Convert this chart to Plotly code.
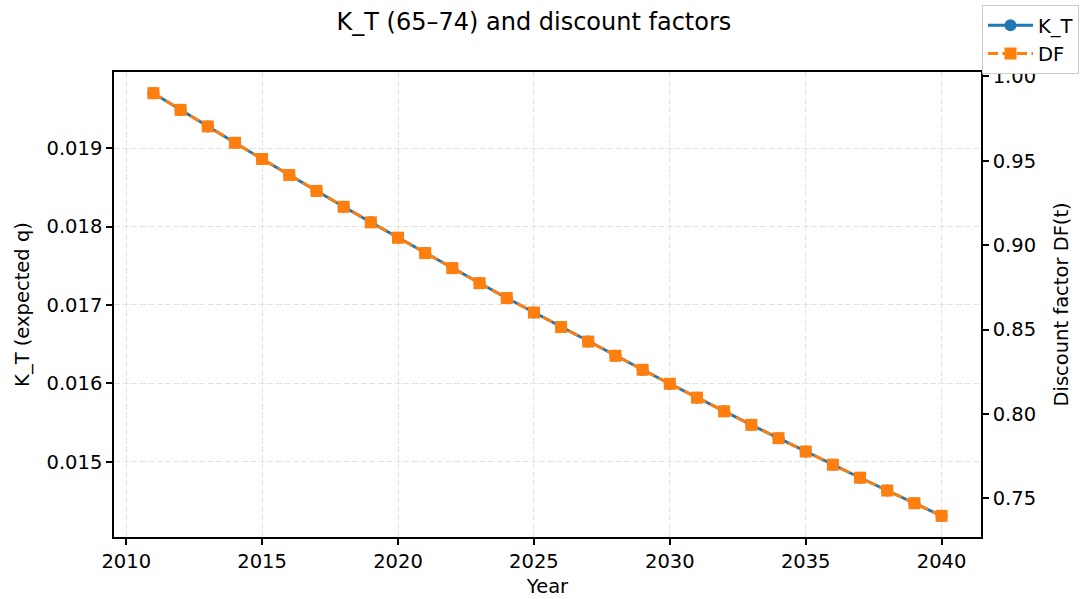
import plotly.graph_objects as go

years = list(range(2011, 2041))
k_t = [0.019702, 0.019489, 0.019278, 0.019069, 0.018862, 0.018657, 0.018455, 0.018252,
       0.018054, 0.017858, 0.017662, 0.017470, 0.017279, 0.017089, 0.016904, 0.016718,
       0.016533, 0.016352, 0.016173, 0.015995, 0.015818, 0.015643, 0.015471, 0.015301,
       0.015131, 0.014963, 0.014797, 0.014633, 0.014472, 0.014310]
df = [0.9900, 0.9801, 0.9703, 0.9606, 0.9510, 0.9415, 0.9321, 0.9227, 0.9135, 0.9044,
      0.8953, 0.8864, 0.8775, 0.8687, 0.8601, 0.8515, 0.8429, 0.8345, 0.8262, 0.8179,
      0.8097, 0.8016, 0.7936, 0.7857, 0.7778, 0.7700, 0.7623, 0.7547, 0.7472, 0.7397]

x_ticks = [2010, 2015, 2020, 2025, 2030, 2035, 2040]
left_ticks = [0.015, 0.016, 0.017, 0.018, 0.019]
right_ticks = [0.75, 0.80, 0.85, 0.90, 0.95, 1.00]

BLUE = "#1f77b4"
ORANGE = "#ff7f0e"
FONT = "DejaVu Sans"
GRID = "#e3e3e3"
FS = 19.5

fig = go.Figure()
fig.add_trace(go.Scatter(x=years, y=k_t, name="K_T", mode="lines+markers",
                         line=dict(color=BLUE, width=2.9),
                         marker=dict(symbol="circle", size=12, color=BLUE),
                         yaxis="y"))
fig.add_trace(go.Scatter(x=years, y=df, name="DF", mode="lines+markers",
                         line=dict(color=ORANGE, width=2.9, dash="10px,4.5px"),
                         marker=dict(symbol="square", size=12, color=ORANGE),
                         yaxis="y2"))

def rng(vals):
    lo, hi = min(vals), max(vals)
    pad = 0.05 * (hi - lo)
    return [lo - pad, hi + pad]

axis_common = dict(ticks="outside", ticklen=6, tickwidth=1.5, tickcolor="black",
                   showline=True, linecolor="black", linewidth=1.6, zeroline=False,
                   tickfont=dict(size=FS), automargin=False)

PLOT_L, PLOT_R = 114, 981

fig.update_layout(
    width=1083, height=599,
    margin=dict(l=PLOT_L, r=1083 - PLOT_R, t=72, b=62),
    paper_bgcolor="white", plot_bgcolor="white",
    font=dict(family=FONT, size=FS, color="black"),
    title=dict(text="K_T (65–74) and discount factors", x=0.493, xanchor="center",
               xref="container", yref="container",
               y=1 - 22 / 599, yanchor="middle", font=dict(size=24)),
    showlegend=True,
    legend=dict(xref="container", yref="container", x=982 / 1083, xanchor="left",
                y=1 - 5 / 599, yanchor="top",
                bordercolor="#cccccc", borderwidth=1, bgcolor="white",
                font=dict(size=FS), tracegroupgap=0, itemwidth=45),
    xaxis=dict(range=rng(years), tickmode="array", tickvals=x_ticks, mirror=True,
               showgrid=True, gridcolor=GRID, griddash="6px,2.5px", gridwidth=1.2,
               title=dict(text="Year", standoff=7, font=dict(size=FS)), **axis_common),
    yaxis=dict(range=rng(k_t), tickmode="array", tickvals=left_ticks, tickformat=".3f",
               showgrid=True, gridcolor=GRID, griddash="6px,2.5px", gridwidth=1.2,
               title=dict(text="K_T (expected q)", standoff=12, font=dict(size=FS)),
               **axis_common),
    yaxis2=dict(range=rng(df), overlaying="y", side="right", tickmode="array",
                tickvals=right_ticks, tickformat=".2f", showgrid=False, **axis_common),
    annotations=[dict(text="Discount factor DF(t)", textangle=-90, showarrow=False,
                      xref="paper", yref="paper",
                      x=(1061 - PLOT_L) / (PLOT_R - PLOT_L), y=0.5,
                      xanchor="center", yanchor="middle", font=dict(size=FS))],
)

fig.write_html("out.html")
